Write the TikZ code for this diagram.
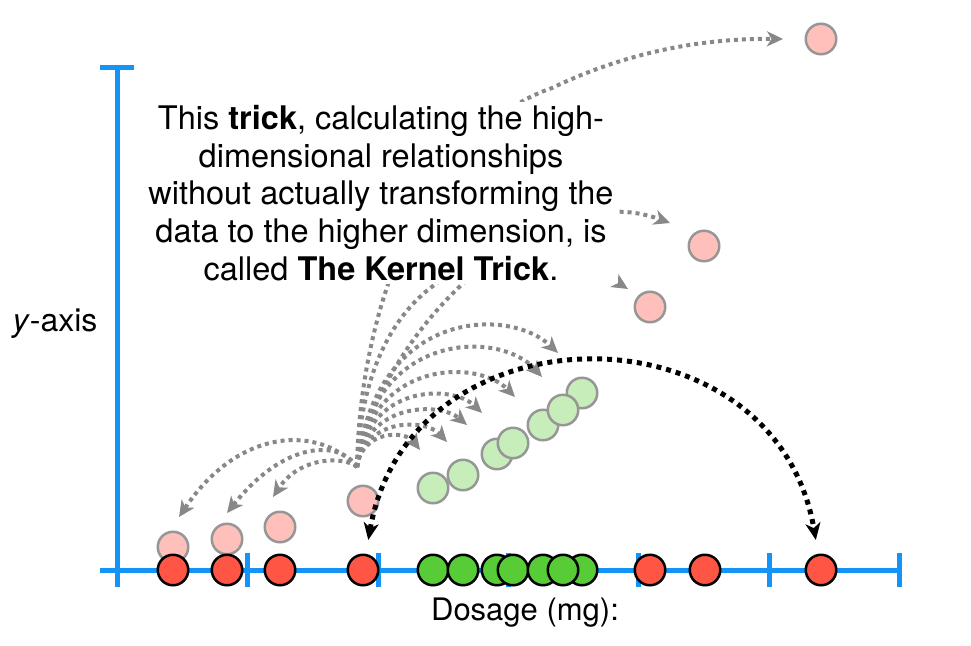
\documentclass[tikz,border=0pt]{standalone}
\usepackage{fontspec}
\setmainfont{TeX Gyre Heros}
\usetikzlibrary{arrows.meta}
\definecolor{axisblue}{RGB}{20,148,246}
\definecolor{redfill}{RGB}{255,85,68}
\definecolor{greenfill}{RGB}{87,204,54}
\definecolor{pinkfill}{RGB}{255,192,188}
\definecolor{lgreenfill}{RGB}{199,238,186}
\definecolor{grayedge}{RGB}{150,150,150}
\definecolor{arrowgray}{RGB}{136,136,136}
\begin{document}
\begin{tikzpicture}[x=1pt,y=-1pt,
  axisline/.style={draw=axisblue,line width=5pt},
  dot/.style={circle,minimum size=30.5pt,inner sep=0pt,line width=2.5pt},
  redpt/.style={dot,draw=black,fill=redfill},
  greenpt/.style={dot,draw=black,fill=greenfill},
  pinkpt/.style={dot,draw=grayedge,fill=pinkfill},
  lgreenpt/.style={dot,draw=grayedge,fill=lgreenfill},
  grayarrow/.style={draw=arrowgray,line width=4pt,dash pattern=on 4pt off 4pt,
    -{Stealth[length=16pt,width=15pt,inset=4.5pt]}},
  blackarrow/.style={draw=black,line width=5pt,dash pattern=on 5pt off 5pt,
    {Stealth[length=17pt,width=15pt,inset=5pt]}-{Stealth[length=17pt,width=15pt,inset=5pt]}},
  bigtext/.style={font=\fontsize{32.5}{37.75}\selectfont}
]
\useasboundingbox (0,0) rectangle (971,645);

% axes
\draw[axisline] (117,587) -- (117,67);
\draw[axisline] (100,67) -- (134,67);
\draw[axisline] (100,570) -- (900,570);
\foreach \x in {247,378,508,638,769,899}
  \draw[axisline] (\x,553) -- (\x,587);

% source point of the gray arrows and their tips
\coordinate (src) at (357,467);
\coordinate (tp1) at (179,517);
\coordinate (tp2) at (227,513);
\coordinate (tp3) at (273,497);
\coordinate (tg1) at (420,450);
\coordinate (tg2) at (447,442);
\coordinate (tg3) at (467,425);
\coordinate (tg4) at (482,413);
\coordinate (tg5) at (515,397);
\coordinate (tg6) at (542,377);
\coordinate (tg7) at (558,353);
\coordinate (tp5) at (628,289);
\coordinate (tp6) at (670,223);
\coordinate (tp7) at (783,39);

% gray dotted arrows
\draw[grayarrow] (src) .. controls (320,426) and (240,426) .. (tp1);
\draw[grayarrow] (src) .. controls (340,440) and (285,440) .. (tp2);
\draw[grayarrow] (src) .. controls (345,456) and (300,456) .. (tp3);
\draw[grayarrow] (src) .. controls (362,430) and (405,430) .. (tg1);
\draw[grayarrow] (src) .. controls (364,418) and (425,418) .. (tg2);
\draw[grayarrow] (src) .. controls (366,402) and (440,402) .. (tg3);
\draw[grayarrow] (src) .. controls (367,384) and (452,384) .. (tg4);
\draw[grayarrow] (src) .. controls (370,359) and (478,359) .. (tg5);
\draw[grayarrow] (src) .. controls (372,330) and (500,330) .. (tg6);
\draw[grayarrow] (src) .. controls (375,307) and (510,307) .. (tg7);
\draw[grayarrow] (src) .. controls (365,250) and (525,225) .. (tp5);
\draw[grayarrow] (src) .. controls (380,330) and (540,175) .. (tp6);
\draw[grayarrow] (src) .. controls (360,300) and (430,130) .. (552,88)
  .. controls (610,60) and (685,38) .. (tp7);

% text block
\node[bigtext,fill=white,inner sep=3pt,align=center] (txt) at (381,193)
  {This \textbf{trick}, calculating the high-\\dimensional relationships\\without actually transforming the\\data to the higher dimension, is\\called \textbf{The Kernel Trick}.};

% labels
\node[font=\fontsize{32}{38}\selectfont,anchor=base] (ylab) at (55,331) {\textit{y}-axis};
\node[font=\fontsize{31}{37}\selectfont,anchor=base] (xlab) at (525,620) {Dosage (mg):};

% lifted points
\node[pinkpt] (P1) at (173,547) {};
\node[pinkpt] (P2) at (227,539) {};
\node[pinkpt] (P3) at (280,527) {};
\node[pinkpt] (P4) at (363,501) {};
\node[pinkpt] (P5) at (650,307) {};
\node[pinkpt] (P6) at (704,246) {};
\node[pinkpt] (P7) at (821,39) {};
\node[lgreenpt] (L1) at (433,488) {};
\node[lgreenpt] (L2) at (463,475) {};
\node[lgreenpt] (L3) at (497,454) {};
\node[lgreenpt] (L4) at (513,443) {};
\node[lgreenpt] (L5) at (543,425) {};
\node[lgreenpt] (L7) at (582,393) {};
\node[lgreenpt] (L6) at (563,410) {};

% points on the axis
\node[redpt] (R1) at (173,570) {};
\node[redpt] (R2) at (227,570) {};
\node[redpt] (R3) at (280,570) {};
\node[redpt] (R4) at (363,570) {};
\node[redpt] (R5) at (650,570) {};
\node[redpt] (R6) at (705,570) {};
\node[redpt] (R7) at (821,570) {};
\node[greenpt] (G1) at (433,570) {};
\node[greenpt] (G2) at (463,570) {};
\node[greenpt] (G3) at (497,570) {};
\node[greenpt] (G4) at (513,570) {};
\node[greenpt] (G5) at (543,570) {};
\node[greenpt] (G7) at (582,570) {};
\node[greenpt] (G6) at (563,570) {};

% black double arrow
\draw[blackarrow,shorten <=14pt,shorten >=14pt] (R4) .. controls (410,302) and (775,302) .. (R7);
\end{tikzpicture}
\end{document}
